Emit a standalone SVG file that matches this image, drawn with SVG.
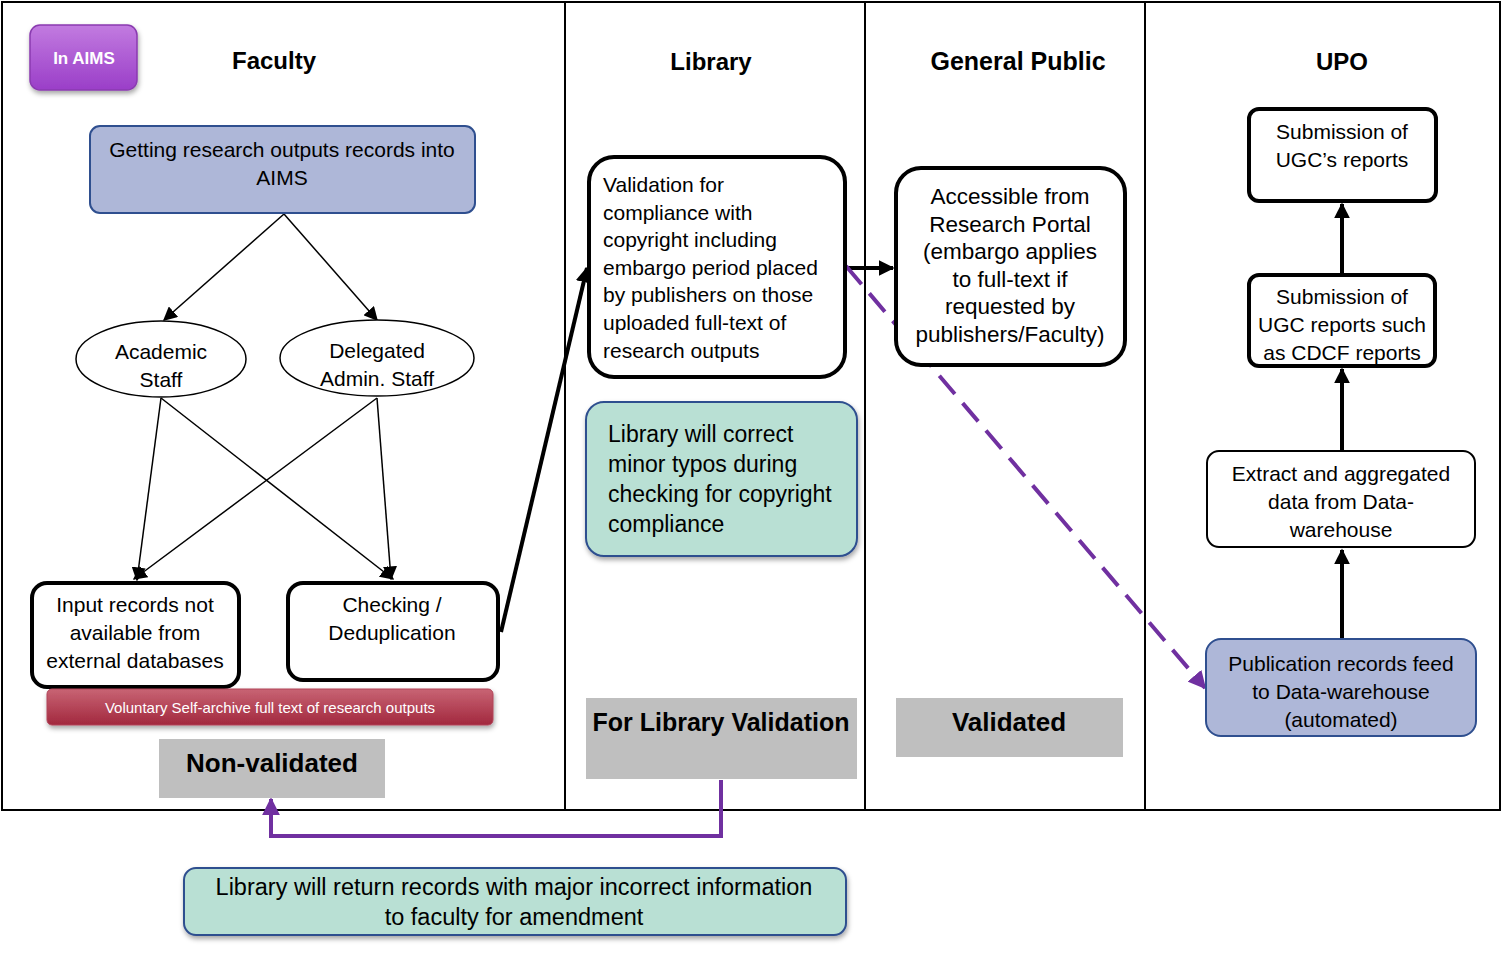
<svg xmlns="http://www.w3.org/2000/svg" width="1502" height="959" viewBox="0 0 1502 959">
<style>
text{font-family:"Liberation Sans","Open Sans",sans-serif;fill:#000;text-anchor:middle}
.t{font-size:21px}
.l{text-anchor:start}
.h{font-size:24px;font-weight:bold}
.g{font-size:26px;font-weight:bold}
.frame{fill:none;stroke:#000;stroke-width:2}
.thick{fill:#fff;stroke:#000;stroke-width:4}
.blue{fill:#aeb7d8;stroke:#2f4f8f;stroke-width:2}
.green{fill:#b9e0d4;stroke:#2f4f8f;stroke-width:2}
.gray{fill:#bfbfbf}
.thin{stroke:#000;stroke-width:1.5;fill:none}
.bold{stroke:#000;stroke-width:4;fill:none}
.purple{stroke:#7030a0;stroke-width:4;fill:none}
</style>
<defs>
<marker id="aThin" viewBox="0 0 10 10" refX="9" refY="5" markerWidth="14" markerHeight="14" markerUnits="userSpaceOnUse" orient="auto"><path d="M0,0 L10,5 L0,10 z" fill="#000"/></marker>
<marker id="aBold" viewBox="0 0 10 10" refX="9" refY="5" markerWidth="16" markerHeight="16" markerUnits="userSpaceOnUse" orient="auto"><path d="M0,0 L10,5 L0,10 z" fill="#000"/></marker>
<marker id="aPur" viewBox="0 0 10 10" refX="9" refY="5" markerWidth="18" markerHeight="18" markerUnits="userSpaceOnUse" orient="auto"><path d="M0,0 L10,5 L0,10 z" fill="#7030a0"/></marker>
<linearGradient id="gPur" x1="0" y1="0" x2="0" y2="1"><stop offset="0" stop-color="#c27be0"/><stop offset="1" stop-color="#9a3ec8"/></linearGradient>
<linearGradient id="gRed" x1="0" y1="0" x2="0" y2="1"><stop offset="0" stop-color="#c86474"/><stop offset="1" stop-color="#a2283e"/></linearGradient>
<filter id="sh" x="-10%" y="-10%" width="120%" height="140%"><feDropShadow dx="1" dy="3" stdDeviation="2.5" flood-color="#000" flood-opacity="0.35"/></filter>
</defs>
<rect width="1502" height="959" fill="#fff"/>
<g id="frame">
<rect class="frame" x="2" y="2" width="1498" height="808"/>
<line class="frame" x1="565" y1="2" x2="565" y2="810"/>
<line class="frame" x1="865" y1="2" x2="865" y2="810"/>
<line class="frame" x1="1145" y1="2" x2="1145" y2="810"/>
</g>
<g id="titles">
<text class="h" x="274" y="69">Faculty</text>
<text class="h" x="711" y="70">Library</text>
<text class="h" x="1018" y="70" style="font-size:25px">General Public</text>
<text class="h" x="1342" y="70">UPO</text>
</g>
<g id="in-aims">
<rect x="30" y="25" width="107" height="65" rx="10" fill="url(#gPur)" stroke="#8a3ab0" stroke-width="1.5" filter="url(#sh)"/>
<text x="84" y="64" style="font-size:17px;font-weight:bold;fill:#fff">In AIMS</text>
</g>
<g id="connectors">
<line class="thin" x1="284" y1="214" x2="164" y2="320" marker-end="url(#aThin)"/>
<line class="thin" x1="284" y1="214" x2="377" y2="320" marker-end="url(#aThin)"/>
<line class="thin" x1="161" y1="398" x2="137" y2="580" marker-end="url(#aThin)"/>
<line class="thin" x1="161" y1="398" x2="393" y2="579" marker-end="url(#aThin)"/>
<line class="thin" x1="377" y1="398" x2="391" y2="579" marker-end="url(#aThin)"/>
<line class="thin" x1="377" y1="398" x2="134" y2="579" marker-end="url(#aThin)"/>
<line class="bold" x1="501" y1="632" x2="587" y2="268" marker-end="url(#aBold)"/>
<line class="bold" x1="845" y1="268" x2="893" y2="268" marker-end="url(#aBold)"/>
<line class="purple" x1="846" y1="266" x2="1205" y2="688" stroke-dasharray="24,12" marker-end="url(#aPur)"/>
<line class="bold" x1="1342" y1="274" x2="1342" y2="204" marker-end="url(#aBold)"/>
<line class="bold" x1="1342" y1="450" x2="1342" y2="369" marker-end="url(#aBold)"/>
<line class="bold" x1="1342" y1="638" x2="1342" y2="550" marker-end="url(#aBold)"/>
<polyline class="purple" points="721,780 721,836 271,836 271,799" marker-end="url(#aPur)"/>
</g>
<g id="getting">
<rect class="blue" x="90" y="126" width="385" height="87" rx="10"/>
<text class="t" x="282" y="157">Getting research outputs records into</text>
<text class="t" x="282" y="185">AIMS</text>
</g>
<g id="academic">
<ellipse cx="161" cy="359" rx="85" ry="38" fill="#fff" stroke="#000" stroke-width="1.5"/>
<text class="t" x="161" y="359">Academic</text>
<text class="t" x="161" y="387">Staff</text>
</g>
<g id="delegated">
<ellipse cx="377" cy="358" rx="97" ry="38" fill="#fff" stroke="#000" stroke-width="1.5"/>
<text class="t" x="377" y="358">Delegated</text>
<text class="t" x="377" y="386">Admin. Staff</text>
</g>
<g id="input">
<rect class="thick" x="32" y="583" width="207" height="104" rx="15"/>
<text class="t" x="135" y="612">Input records not</text>
<text class="t" x="135" y="640">available from</text>
<text class="t" x="135" y="668">external databases</text>
</g>
<g id="checking">
<rect class="thick" x="288" y="583" width="210" height="97" rx="15"/>
<text class="t" x="392" y="612">Checking /</text>
<text class="t" x="392" y="640">Deduplication</text>
</g>
<g id="voluntary">
<rect x="47" y="689" width="446" height="36" rx="5" fill="url(#gRed)" stroke="#b04458" stroke-width="1" filter="url(#sh)"/>
<text x="270" y="713" style="font-size:15px;fill:#fff">Voluntary Self-archive full text of research outputs</text>
</g>
<g id="nonvalidated">
<rect class="gray" x="159" y="739" width="226" height="59"/>
<text class="g" x="272" y="772">Non-validated</text>
</g>
<g id="validation">
<rect class="thick" x="589" y="157" width="256" height="220" rx="25"/>
<text class="t l" x="603" y="192">Validation for</text>
<text class="t l" x="603" y="220">compliance with</text>
<text class="t l" x="603" y="247">copyright including</text>
<text class="t l" x="603" y="275">embargo period placed</text>
<text class="t l" x="603" y="302">by publishers on those</text>
<text class="t l" x="603" y="330">uploaded full-text of</text>
<text class="t l" x="603" y="358">research outputs</text>
</g>
<g id="library-note">
<rect class="green" x="586" y="402" width="271" height="154" rx="18" filter="url(#sh)"/>
<text class="l" x="608" y="442" style="font-size:23px">Library will correct</text>
<text class="l" x="608" y="472" style="font-size:23px">minor typos during</text>
<text class="l" x="608" y="502" style="font-size:23px">checking for copyright</text>
<text class="l" x="608" y="532" style="font-size:23px">compliance</text>
</g>
<g id="for-library">
<rect class="gray" x="586" y="698" width="271" height="81"/>
<text class="g" x="721" y="731" style="font-size:25px">For Library Validation</text>
</g>
<g id="accessible">
<rect class="thick" x="896" y="168" width="229" height="197" rx="25"/>
<text x="1010" y="204" style="font-size:22.5px">Accessible from</text>
<text x="1010" y="232" style="font-size:22.5px">Research Portal</text>
<text x="1010" y="259" style="font-size:22.5px">(embargo applies</text>
<text x="1010" y="287" style="font-size:22.5px">to full-text  if</text>
<text x="1010" y="314" style="font-size:22.5px">requested by</text>
<text x="1010" y="342" style="font-size:22.5px">publishers/Faculty)</text>
</g>
<g id="validated">
<rect class="gray" x="896" y="698" width="227" height="59"/>
<text class="g" x="1009" y="731">Validated</text>
</g>
<g id="ugc-reports">
<rect class="thick" x="1249" y="109" width="187" height="92" rx="10"/>
<text class="t" x="1342" y="139">Submission of</text>
<text class="t" x="1342" y="167">UGC’s reports</text>
</g>
<g id="cdcf">
<rect class="thick" x="1249" y="275" width="186" height="91" rx="10"/>
<text class="t" x="1342" y="304">Submission of</text>
<text class="t" x="1342" y="332">UGC reports such</text>
<text class="t" x="1342" y="360">as CDCF reports</text>
</g>
<g id="extract">
<rect x="1207" y="451" width="268" height="96" rx="12" fill="#fff" stroke="#000" stroke-width="2"/>
<text class="t" x="1341" y="481">Extract and aggregated</text>
<text class="t" x="1341" y="509">data from Data-</text>
<text class="t" x="1341" y="537">warehouse</text>
</g>
<g id="publication">
<rect class="blue" x="1206" y="639" width="270" height="97" rx="15"/>
<text class="t" x="1341" y="671">Publication records feed</text>
<text class="t" x="1341" y="699">to Data-warehouse</text>
<text class="t" x="1341" y="727">(automated)</text>
</g>
<g id="return-note">
<rect class="green" x="184" y="868" width="662" height="67" rx="12" filter="url(#sh)"/>
<text x="514" y="895" style="font-size:23.5px">Library will return records with major incorrect information</text>
<text x="514" y="925" style="font-size:23.5px">to faculty for amendment</text>
</g>
</svg>
